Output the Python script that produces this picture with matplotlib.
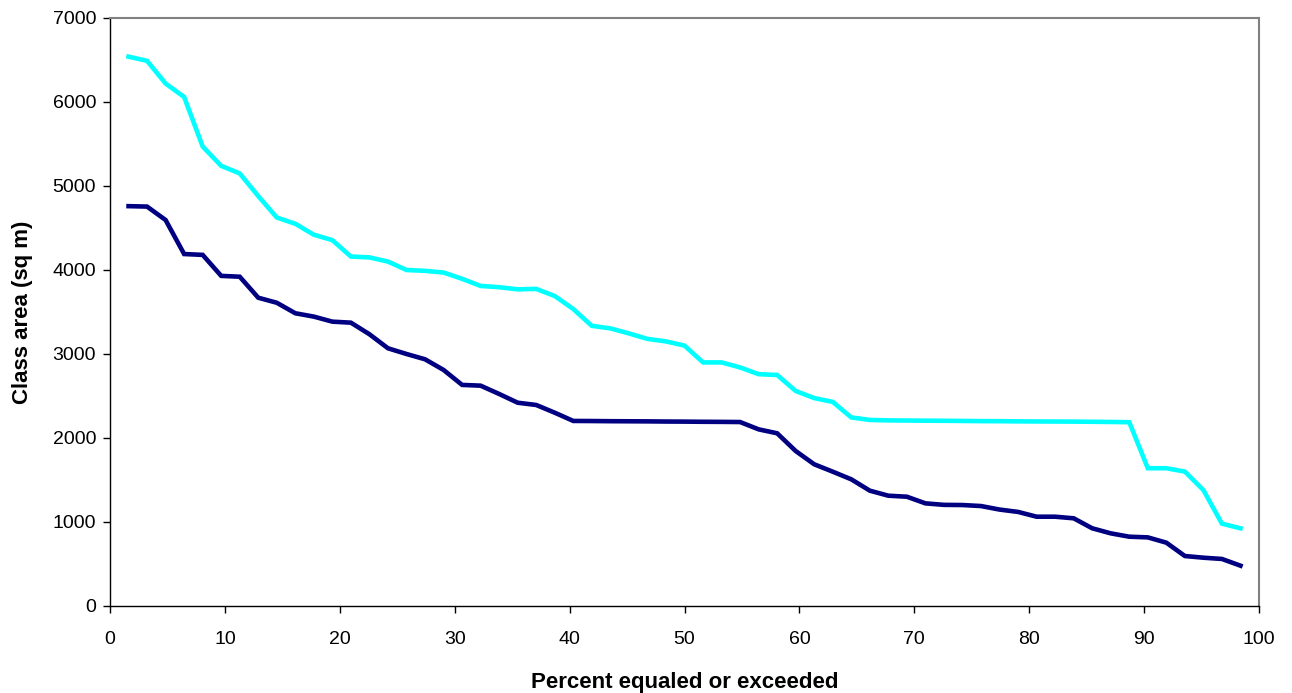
import numpy as np
import matplotlib
matplotlib.use("Agg")
import matplotlib.pyplot as plt

plt.rcParams['font.family'] = ['Liberation Sans', 'DejaVu Sans']

# Class-area duration curves (61 ranked values each)
upper_area = [6540, 6490, 6220, 6060, 5470, 5240, 5150, 4880, 4625, 4550,
              4420, 4355, 4160, 4150, 4100, 4000, 3990, 3970, 3895, 3810,
              3795, 3770, 3775, 3690, 3535, 3335, 3305, 3245, 3180, 3150,
              3100, 2900, 2900, 2840, 2760, 2750, 2560, 2475, 2430, 2245,
              2215, 2210, 2208, 2206, 2205, 2203, 2201, 2200, 2198, 2197,
              2196, 2195, 2193, 2191, 2188, 1640, 1640, 1600, 1380, 980, 925]
lower_area = [4760, 4755, 4595, 4190, 4180, 3930, 3920, 3670, 3610, 3485,
              3445, 3385, 3373, 3235, 3068, 3000, 2937, 2810, 2632, 2623,
              2524, 2420, 2393, 2301, 2203, 2202, 2200, 2199, 2198, 2196,
              2195, 2193, 2192, 2190, 2103, 2056, 1845, 1687, 1599, 1508,
              1373, 1313, 1301, 1222, 1204, 1202, 1190, 1148, 1120, 1063,
              1063, 1044, 925, 865, 825, 817, 754, 595, 575, 560, 480]

# Plotting position: rank / (n + 1), in percent
n = len(upper_area)
percent = [100.0 * k / (n + 1) for k in range(1, n + 1)]

x_ticks = list(range(0, 101, 10))
y_ticks = list(range(0, 7001, 1000))

fig = plt.figure(figsize=(12.92, 6.93), dpi=100)
ax = fig.add_axes([110 / 1292, 1 - 606 / 693, (1259 - 110) / 1292, (606 - 18) / 693])

ax.plot(percent, upper_area, color='#00FFFF', linewidth=3.3, solid_joinstyle='miter')
ax.plot(percent, lower_area, color='#000080', linewidth=3.3, solid_joinstyle='miter')

ax.set_xlim(0, 100)
ax.set_ylim(0, 7000)
ax.set_xticks(x_ticks)
ax.set_yticks(y_ticks)
ax.tick_params(axis='both', direction='out', length=5, width=1, color='#000000',
               labelsize=14, pad=5)
ax.tick_params(axis='x', pad=13)

for side in ('left', 'bottom'):
    ax.spines[side].set_color('#000000')
    ax.spines[side].set_linewidth(1.0)
for side in ('top', 'right'):
    ax.spines[side].set_color('#808080')
    ax.spines[side].set_linewidth(1.5)

ax.set_xlabel('Percent equaled or exceeded', fontsize=16, fontweight='bold', labelpad=17)
ax.set_ylabel('Class area (sq m)', fontsize=16, fontweight='bold', labelpad=14)

fig.savefig('out.png', dpi=100)
